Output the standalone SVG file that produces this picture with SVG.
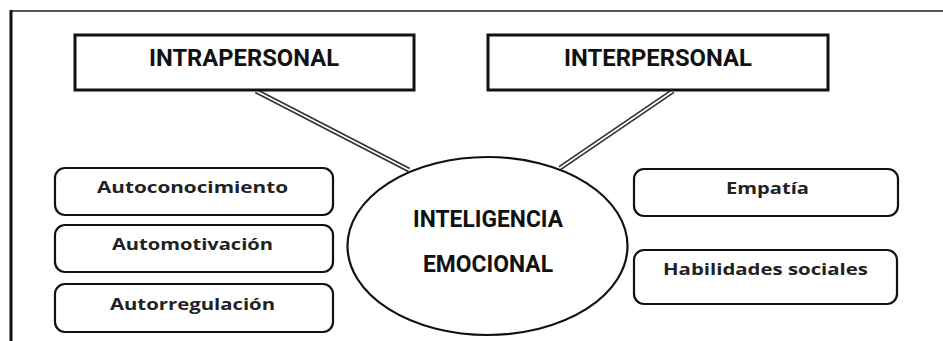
<svg xmlns="http://www.w3.org/2000/svg" width="943" height="341" viewBox="0 0 943 341">
<style>
.title{font-family:Roboto,"Liberation Sans",sans-serif;font-weight:bold;font-size:23px;fill:#111;text-anchor:middle}
.lbl{font-family:"Open Sans",Lato,sans-serif;font-weight:bold;font-size:16.5px;fill:#222;text-anchor:middle}
.sq{fill:#fff;stroke:#111;stroke-width:3}
.rr{fill:#fff;stroke:#111;stroke-width:2.2}
.co{stroke:#333;stroke-width:5;fill:none}
.ci{stroke:#fff;stroke-width:1.6;fill:none}
</style>
<rect width="943" height="341" fill="#fff"/>
<g id="frame">
<line x1="11" y1="11" x2="943" y2="11" stroke="#555" stroke-width="2.2"/>
<line x1="11" y1="10" x2="11" y2="341" stroke="#111" stroke-width="3"/>
</g>
<g id="connectors">
<line class="co" x1="256" y1="91" x2="409" y2="170"/>
<line class="ci" x1="256" y1="91" x2="409" y2="170"/>
<line class="co" x1="673" y1="91" x2="560" y2="168"/>
<line class="ci" x1="673" y1="91" x2="560" y2="168"/>
</g>
<g id="intrapersonal">
<rect class="sq" x="75" y="35" width="339" height="55"/>
<text class="title" x="244" y="66" textLength="190" lengthAdjust="spacingAndGlyphs">INTRAPERSONAL</text>
</g>
<g id="interpersonal">
<rect class="sq" x="488" y="35" width="340" height="55"/>
<text class="title" x="658" y="66" textLength="188" lengthAdjust="spacingAndGlyphs">INTERPERSONAL</text>
</g>
<g id="inteligencia">
<ellipse cx="487.5" cy="246" rx="140" ry="89" fill="#fff" stroke="#111" stroke-width="2.2"/>
<text class="title" x="488" y="227" font-size="21" textLength="150" lengthAdjust="spacingAndGlyphs">INTELIGENCIA</text>
<text class="title" x="488" y="272" font-size="21" textLength="130" lengthAdjust="spacingAndGlyphs">EMOCIONAL</text>
</g>
<g id="autoconocimiento">
<rect class="rr" x="55" y="168" width="278" height="47" rx="10"/>
<text class="lbl" x="192.5" y="193" textLength="191" lengthAdjust="spacingAndGlyphs">Autoconocimiento</text>
</g>
<g id="automotivacion">
<rect class="rr" x="55" y="225" width="278" height="47" rx="10"/>
<text class="lbl" x="192.5" y="250" textLength="161" lengthAdjust="spacingAndGlyphs">Automotivación</text>
</g>
<g id="autorregulacion">
<rect class="rr" x="55" y="284" width="278" height="48" rx="10"/>
<text class="lbl" x="192.5" y="310" textLength="165" lengthAdjust="spacingAndGlyphs">Autorregulación</text>
</g>
<g id="empatia">
<rect class="rr" x="634" y="169" width="264" height="47" rx="10"/>
<text class="lbl" x="767.5" y="194" textLength="83" lengthAdjust="spacingAndGlyphs">Empatía</text>
</g>
<g id="habilidades">
<rect class="rr" x="634" y="250" width="263" height="54" rx="10"/>
<text class="lbl" x="765.5" y="275" textLength="205" lengthAdjust="spacingAndGlyphs">Habilidades sociales</text>
</g>
</svg>
